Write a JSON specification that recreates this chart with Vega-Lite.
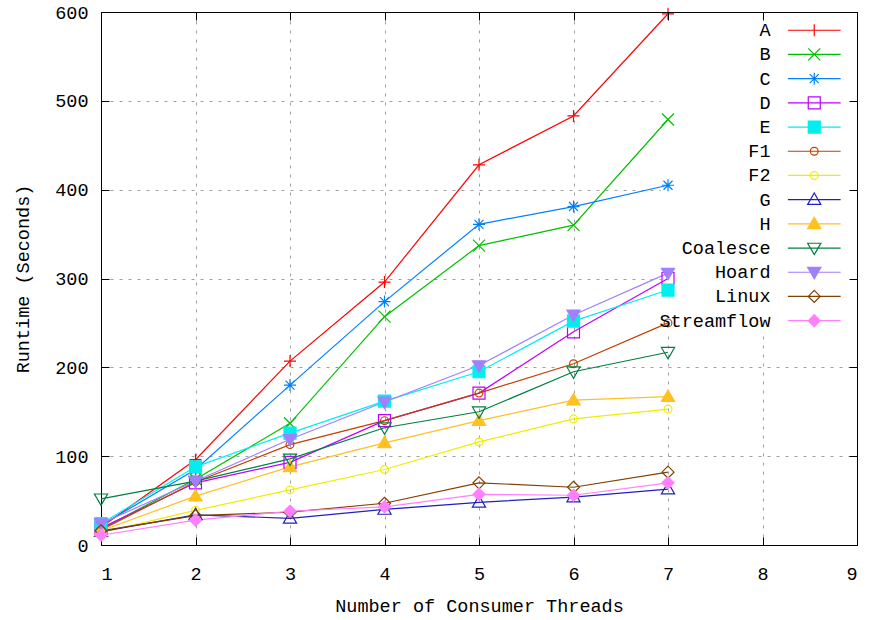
{
  "$schema": "https://vega.github.io/schema/vega-lite/v6.json",
  "width": 756,
  "height": 533,
  "autosize": {"type": "none"},
  "padding": {"left": 101, "top": 12, "right": 13, "bottom": 75},
  "background": "white",
  "config": {
    "font": "Liberation Mono",
    "view": {"stroke": null},
    "axis": {
      "labelFont": "Liberation Mono",
      "titleFont": "Liberation Mono",
      "labelFontSize": 18.5,
      "titleFontSize": 18.5,
      "titleFontWeight": "normal",
      "labelColor": "black",
      "titleColor": "black",
      "tickColor": "black",
      "tickWidth": 1,
      "domainColor": "black",
      "domainWidth": 1,
      "tickSize": -8
    }
  },
  "data": {
    "values": [
      {"series": "A", "threads": 1, "runtime": 20}, {"series": "A", "threads": 2, "runtime": 96}, {"series": "A", "threads": 3, "runtime": 207}, {"series": "A", "threads": 4, "runtime": 296}, {"series": "A", "threads": 5, "runtime": 428}, {"series": "A", "threads": 6, "runtime": 483}, {"series": "A", "threads": 7, "runtime": 598},
      {"series": "B", "threads": 1, "runtime": 18}, {"series": "B", "threads": 2, "runtime": 74}, {"series": "B", "threads": 3, "runtime": 137}, {"series": "B", "threads": 4, "runtime": 257}, {"series": "B", "threads": 5, "runtime": 337}, {"series": "B", "threads": 6, "runtime": 360}, {"series": "B", "threads": 7, "runtime": 479},
      {"series": "C", "threads": 1, "runtime": 22}, {"series": "C", "threads": 2, "runtime": 85}, {"series": "C", "threads": 3, "runtime": 180}, {"series": "C", "threads": 4, "runtime": 274}, {"series": "C", "threads": 5, "runtime": 361}, {"series": "C", "threads": 6, "runtime": 381}, {"series": "C", "threads": 7, "runtime": 405},
      {"series": "D", "threads": 1, "runtime": 19}, {"series": "D", "threads": 2, "runtime": 70}, {"series": "D", "threads": 3, "runtime": 93}, {"series": "D", "threads": 4, "runtime": 140}, {"series": "D", "threads": 5, "runtime": 171}, {"series": "D", "threads": 6, "runtime": 240}, {"series": "D", "threads": 7, "runtime": 300},
      {"series": "E", "threads": 1, "runtime": 24}, {"series": "E", "threads": 2, "runtime": 88}, {"series": "E", "threads": 3, "runtime": 126}, {"series": "E", "threads": 4, "runtime": 162}, {"series": "E", "threads": 5, "runtime": 195}, {"series": "E", "threads": 6, "runtime": 252}, {"series": "E", "threads": 7, "runtime": 287},
      {"series": "F1", "threads": 1, "runtime": 17}, {"series": "F1", "threads": 2, "runtime": 71}, {"series": "F1", "threads": 3, "runtime": 113}, {"series": "F1", "threads": 4, "runtime": 140}, {"series": "F1", "threads": 5, "runtime": 171}, {"series": "F1", "threads": 6, "runtime": 204}, {"series": "F1", "threads": 7, "runtime": 250},
      {"series": "F2", "threads": 1, "runtime": 14}, {"series": "F2", "threads": 2, "runtime": 39}, {"series": "F2", "threads": 3, "runtime": 62}, {"series": "F2", "threads": 4, "runtime": 85}, {"series": "F2", "threads": 5, "runtime": 116}, {"series": "F2", "threads": 6, "runtime": 142}, {"series": "F2", "threads": 7, "runtime": 153},
      {"series": "G", "threads": 1, "runtime": 15}, {"series": "G", "threads": 2, "runtime": 34}, {"series": "G", "threads": 3, "runtime": 30}, {"series": "G", "threads": 4, "runtime": 40}, {"series": "G", "threads": 5, "runtime": 48}, {"series": "G", "threads": 6, "runtime": 54}, {"series": "G", "threads": 7, "runtime": 63},
      {"series": "H", "threads": 1, "runtime": 16}, {"series": "H", "threads": 2, "runtime": 55}, {"series": "H", "threads": 3, "runtime": 88}, {"series": "H", "threads": 4, "runtime": 115}, {"series": "H", "threads": 5, "runtime": 140}, {"series": "H", "threads": 6, "runtime": 163}, {"series": "H", "threads": 7, "runtime": 167},
      {"series": "Coalesce", "threads": 1, "runtime": 52}, {"series": "Coalesce", "threads": 2, "runtime": 72}, {"series": "Coalesce", "threads": 3, "runtime": 97}, {"series": "Coalesce", "threads": 4, "runtime": 132}, {"series": "Coalesce", "threads": 5, "runtime": 150}, {"series": "Coalesce", "threads": 6, "runtime": 195}, {"series": "Coalesce", "threads": 7, "runtime": 217},
      {"series": "Hoard", "threads": 1, "runtime": 24}, {"series": "Hoard", "threads": 2, "runtime": 72}, {"series": "Hoard", "threads": 3, "runtime": 119}, {"series": "Hoard", "threads": 4, "runtime": 161}, {"series": "Hoard", "threads": 5, "runtime": 202}, {"series": "Hoard", "threads": 6, "runtime": 259}, {"series": "Hoard", "threads": 7, "runtime": 306},
      {"series": "Linux", "threads": 1, "runtime": 16}, {"series": "Linux", "threads": 2, "runtime": 33}, {"series": "Linux", "threads": 3, "runtime": 37}, {"series": "Linux", "threads": 4, "runtime": 47}, {"series": "Linux", "threads": 5, "runtime": 70}, {"series": "Linux", "threads": 6, "runtime": 65}, {"series": "Linux", "threads": 7, "runtime": 82},
      {"series": "Streamflow", "threads": 1, "runtime": 11}, {"series": "Streamflow", "threads": 2, "runtime": 28}, {"series": "Streamflow", "threads": 3, "runtime": 38}, {"series": "Streamflow", "threads": 4, "runtime": 43}, {"series": "Streamflow", "threads": 5, "runtime": 57}, {"series": "Streamflow", "threads": 6, "runtime": 56}, {"series": "Streamflow", "threads": 7, "runtime": 70}
    ]
  },
  "resolve": {
    "axis": {"x": "independent", "y": "independent"},
    "scale": {"shape": "independent", "fill": "independent", "stroke": "independent"}
  },
  "layer": [
    {
      "mark": {"type": "rect", "fill": "white", "stroke": null},
      "encoding": {
        "x": {"datum": 6.93, "type": "quantitative", "axis": null},
        "x2": {"datum": 8.99},
        "y": {"datum": 236, "type": "quantitative", "axis": null},
        "y2": {"datum": 599.5}
      }
    },
    {
      "mark": {"type": "line", "strokeWidth": 1.2},
      "encoding": {
        "x": {
          "field": "threads", "type": "quantitative",
          "scale": {"domain": [1, 9], "nice": false, "zero": false},
          "axis": {
            "orient": "bottom", "values": [1, 2, 3, 4, 5, 6, 7, 8, 9], "format": "d",
            "grid": true, "gridColor": "#a0a0a0", "gridDash": [3, 6], "gridWidth": 1,
            "domain": true, "labelPadding": 27, "title": "Number of Consumer Threads", "titlePadding": 14, "zindex": 0
          }
        },
        "y": {
          "field": "runtime", "type": "quantitative",
          "scale": {"domain": [0, 600], "nice": false},
          "axis": {
            "orient": "left", "values": [0, 100, 200, 300, 400, 500, 600], "format": "d",
            "grid": true, "gridColor": "#a0a0a0", "gridDash": [3, 6], "gridWidth": 1,
            "domain": true, "labelPadding": 21, "title": "Runtime (Seconds)", "titlePadding": 22, "zindex": 0
          }
        },
        "color": {
          "field": "series", "type": "nominal", "legend": null,
          "scale": {
            "domain": ["A", "B", "C", "D", "E", "F1", "F2", "G", "H", "Coalesce", "Hoard", "Linux", "Streamflow"],
            "range": ["#ff0000", "#00c000", "#0080ff", "#c000ff", "#00eeee", "#c04000", "#eeee00", "#2020c0", "#ffc020", "#008040", "#a080ff", "#804000", "#ff80ff"]
          }
        }
      }
    },
    {
      "mark": {"type": "point", "filled": false, "size": 144, "strokeWidth": 1.2, "opacity": 1},
      "encoding": {
        "x": {"field": "threads", "type": "quantitative", "axis": null},
        "y": {"field": "runtime", "type": "quantitative", "axis": null},
        "color": {"field": "series", "type": "nominal", "legend": null},
        "fill": {
          "field": "series", "type": "nominal", "legend": null,
          "scale": {
            "domain": ["A", "B", "C", "D", "E", "F1", "F2", "G", "H", "Coalesce", "Hoard", "Linux", "Streamflow"],
            "range": ["transparent", "transparent", "transparent", "transparent", "#00eeee", "transparent", "transparent", "transparent", "#ffc020", "transparent", "#a080ff", "transparent", "#ff80ff"]
          }
        },
        "shape": {
          "field": "series", "type": "nominal", "legend": null,
          "scale": {
            "domain": ["A", "B", "C", "D", "E", "F1", "F2", "G", "H", "Coalesce", "Hoard", "Linux", "Streamflow"],
            "range": [
              "M0,-1V1M-1,0H1",
              "M-1,-1L1,1M-1,1L1,-1",
              "M0,-1V1M-1,0H1M-0.75,-0.75L0.75,0.75M-0.75,0.75L0.75,-0.75",
              "M-1,-1H1V1H-1Z",
              "M-1,-1H1V1H-1Z",
              "M-0.65,0A0.65,0.65,0,1,0,0.65,0A0.65,0.65,0,1,0,-0.65,0Z",
              "M-0.65,0A0.65,0.65,0,1,0,0.65,0A0.65,0.65,0,1,0,-0.65,0Z",
              "M0,-1.1L1.1,0.8H-1.1Z",
              "M0,-1.1L1.1,0.8H-1.1Z",
              "M0,1.1L1.1,-0.8H-1.1Z",
              "M0,1.1L1.1,-0.8H-1.1Z",
              "M0,-1L1,0L0,1L-1,0Z",
              "M0,-1L1,0L0,1L-1,0Z"
            ]
          }
        }
      }
    },
    {
      "mark": {"type": "point", "filled": false, "size": 144, "strokeWidth": 1.2, "opacity": 0},
      "encoding": {
        "x": {
          "field": "threads", "type": "quantitative",
          "axis": {"orient": "top", "values": [1, 2, 3, 4, 5, 6, 7, 8, 9], "labels": false, "grid": false, "domain": true, "title": null, "zindex": 1}
        },
        "y": {
          "field": "runtime", "type": "quantitative",
          "axis": {"orient": "right", "values": [0, 100, 200, 300, 400, 500, 600], "labels": false, "grid": false, "domain": true, "title": null, "zindex": 1}
        },
        "stroke": {
          "field": "series", "type": "nominal",
          "scale": {
            "domain": ["A", "B", "C", "D", "E", "F1", "F2", "G", "H", "Coalesce", "Hoard", "Linux", "Streamflow"],
            "range": ["#ff0000", "#00c000", "#0080ff", "#c000ff", "#00eeee", "#c04000", "#eeee00", "#2020c0", "#ffc020", "#008040", "#a080ff", "#804000", "#ff80ff"]
          },
          "legend": {
            "title": null, "orient": "none", "legendX": 704, "legendY": 9, "padding": 0,
            "labelFont": "Liberation Mono", "labelFontSize": 18.5, "labelColor": "black",
            "labelAlign": "right", "labelBaseline": "middle", "labelOffset": -53,
            "symbolSize": 144, "symbolStrokeWidth": 1.2, "symbolOpacity": 1, "rowPadding": 5.2
          }
        },
        "fill": {
          "field": "series", "type": "nominal",
          "scale": {
            "domain": ["A", "B", "C", "D", "E", "F1", "F2", "G", "H", "Coalesce", "Hoard", "Linux", "Streamflow"],
            "range": ["transparent", "transparent", "transparent", "transparent", "#00eeee", "transparent", "transparent", "transparent", "#ffc020", "transparent", "#a080ff", "transparent", "#ff80ff"]
          },
          "legend": {
            "title": null, "orient": "none", "legendX": 704, "legendY": 9, "padding": 0,
            "labelFont": "Liberation Mono", "labelFontSize": 18.5, "labelColor": "black",
            "labelAlign": "right", "labelBaseline": "middle", "labelOffset": -53,
            "symbolSize": 144, "symbolStrokeWidth": 1.2, "symbolOpacity": 1, "rowPadding": 5.2
          }
        },
        "shape": {
          "field": "series", "type": "nominal",
          "scale": {
            "domain": ["A", "B", "C", "D", "E", "F1", "F2", "G", "H", "Coalesce", "Hoard", "Linux", "Streamflow"],
            "range": [
              "M-4.4,0H4.4M0,-1V1M-1,0H1",
              "M-4.4,0H4.4M-1,-1L1,1M-1,1L1,-1",
              "M-4.4,0H4.4M0,-1V1M-1,0H1M-0.75,-0.75L0.75,0.75M-0.75,0.75L0.75,-0.75",
              "M-4.4,0H4.4M-1,-1H1V1H-1Z",
              "M-4.4,0H4.4M-1,-1H1V1H-1Z",
              "M-4.4,0H4.4M-0.65,0A0.65,0.65,0,1,0,0.65,0A0.65,0.65,0,1,0,-0.65,0Z",
              "M-4.4,0H4.4M-0.65,0A0.65,0.65,0,1,0,0.65,0A0.65,0.65,0,1,0,-0.65,0Z",
              "M-4.4,0H4.4M0,-1.1L1.1,0.8H-1.1Z",
              "M-4.4,0H4.4M0,-1.1L1.1,0.8H-1.1Z",
              "M-4.4,0H4.4M0,1.1L1.1,-0.8H-1.1Z",
              "M-4.4,0H4.4M0,1.1L1.1,-0.8H-1.1Z",
              "M-4.4,0H4.4M0,-1L1,0L0,1L-1,0Z",
              "M-4.4,0H4.4M0,-1L1,0L0,1L-1,0Z"
            ]
          },
          "legend": {
            "title": null, "orient": "none", "legendX": 704, "legendY": 9, "padding": 0,
            "labelFont": "Liberation Mono", "labelFontSize": 18.5, "labelColor": "black",
            "labelAlign": "right", "labelBaseline": "middle", "labelOffset": -53,
            "symbolSize": 144, "symbolStrokeWidth": 1.2, "symbolOpacity": 1, "rowPadding": 5.2
          }
        }
      }
    }
  ]
}
